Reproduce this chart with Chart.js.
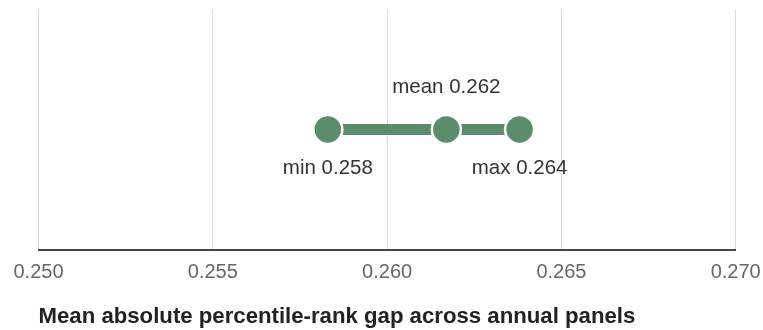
<!DOCTYPE html>
<html>
<head>
    <title>Percentile-rank gap</title>
    <script src="https://cdn.jsdelivr.net/npm/chart.js@4"></script>
</head>
<body style="margin: 0; background: white;">
    <div style="width: 763px; height: 330px;">
        <canvas id="grafico" width="763" height="330"></canvas>
    </div>

    <script>
        // summary stats
        const statNames = ['min', 'mean', 'max'];
        const statValues = [0.2583, 0.2617, 0.2638];
        const axisTicks = [0.250, 0.255, 0.260, 0.265, 0.270];
        const axisTitle = 'Mean absolute percentile-rank gap across annual panels';

        const verde = '#5b8c6b';
        const fonte = '"Liberation Sans", Arial, sans-serif';

        const pontos = statValues.map(v => ({ x: v, y: 0 }));

        // draws "min 0.258" etc next to each point
        const rotulos = {
            id: 'rotulos',
            afterDatasetsDraw(chart) {
                const ctx = chart.ctx;
                const meta = chart.getDatasetMeta(0);
                ctx.save();
                ctx.font = '20.5px ' + fonte;
                ctx.fillStyle = '#333';
                ctx.textAlign = 'center';
                ctx.textBaseline = 'alphabetic';
                meta.data.forEach((p, i) => {
                    const texto = statNames[i] + ' ' + statValues[i].toFixed(3);
                    const dy = statNames[i] === 'mean' ? -36 : 45;
                    ctx.fillText(texto, p.x, p.y + dy);
                });
                ctx.restore();
            }
        };

        new Chart(document.getElementById('grafico'), {
            type: 'scatter',
            data: {
                datasets: [{
                    data: pontos,
                    showLine: true,
                    borderColor: verde,
                    borderWidth: 11,
                    backgroundColor: verde,
                    pointBackgroundColor: verde,
                    pointBorderColor: '#fff',
                    pointBorderWidth: 2.5,
                    pointRadius: 14.5,
                    pointHoverRadius: 14.5
                }]
            },
            options: {
                responsive: false,
                animation: false,
                layout: {
                    autoPadding: false,
                    padding: { left: 38.5, right: 27.3, top: 9, bottom: 0 }
                },
                scales: {
                    x: {
                        type: 'linear',
                        min: axisTicks[0],
                        max: axisTicks[axisTicks.length - 1],
                        afterBuildTicks: (scale) => {
                            scale.ticks = axisTicks.map(v => ({ value: v }));
                        },
                        ticks: {
                            callback: (v) => Number(v).toFixed(3),
                            color: '#666',
                            padding: 0,
                            font: { family: fonte, size: 20 }
                        },
                        grid: {
                            color: '#dcdcdc',
                            lineWidth: 1,
                            drawTicks: true,
                            tickLength: 11,
                            tickColor: 'rgba(0,0,0,0)'
                        },
                        border: {
                            color: '#444',
                            width: 2
                        },
                        title: {
                            display: true,
                            text: axisTitle,
                            align: 'start',
                            color: '#222',
                            font: { family: fonte, size: 22.2, weight: 'bold' },
                            padding: { top: 18.4, bottom: 0 }
                        }
                    },
                    y: {
                        display: false,
                        min: -1,
                        max: 1
                    }
                },
                plugins: {
                    legend: { display: false },
                    tooltip: { enabled: false }
                }
            },
            plugins: [rotulos]
        });
    </script>
</body>
</html>
